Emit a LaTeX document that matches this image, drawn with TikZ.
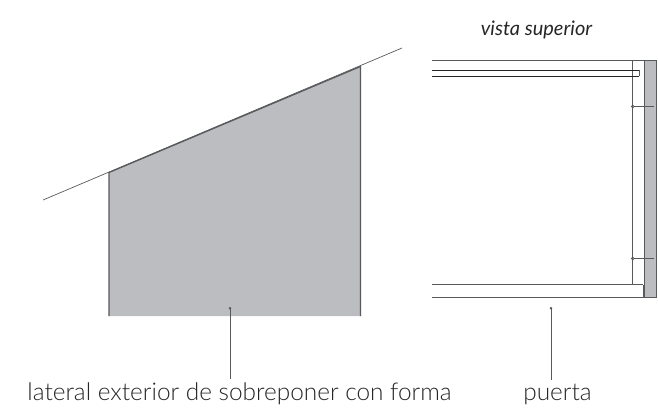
\documentclass[tikz,border=0pt]{standalone}
\usepackage{fontspec}
\setmainfont{Lato Light}
\newfontfamily\vistafont{Lato}
\usepackage{xcolor}
\usetikzlibrary{arrows.meta}
\definecolor{panelgray}{HTML}{BCBDC0}
\definecolor{linegray}{HTML}{58595B}
\tikzset{
  wire/.style={line width=0.7pt,draw=linegray},
  edge/.style={line width=1.5pt,draw=linegray},
  leader/.style={line width=0.7pt,draw=linegray,{Circle[length=2.5pt]}-},
  caption/.style={font=\fontsize{24.4}{26}\selectfont,text=black!85,inner sep=0pt,anchor=base},
}
\begin{document}
\begin{tikzpicture}[x=1pt,y=1pt]
\useasboundingbox (0,0) rectangle (658,410);
% lateral
\fill[panelgray] (109,237.5)--(360.5,343.5)--(360.5,94)--(109,94)--cycle;
\draw[wire] (43,210)--(402,362);
\draw[edge,line width=1.2pt] (109,94)--(109,237.5)--(360.5,343.5)--(360.5,94);
% vista superior
\node[font=\vistafont\itshape\fontsize{20}{22}\selectfont,text=black!85,inner sep=0pt,anchor=base] (vista) at (536.5,374) {vista superior};
\fill[panelgray] (644,112.5) rectangle (656,349.5);
\draw[wire] (644,112.5) rectangle (656,349.5);
\draw[wire] (432,349.5)--(644,349.5);
\draw[wire] (632.7,349.5)--(632.7,126);
% entrepano
\draw[edge,line width=1.2pt,draw=black!85] (432,339.5)--(639,339.5);
\draw[edge,line width=1.2pt,draw=black!85] (432,333.5)--(639,333.5);
\draw[wire] (639,339.5)--(639,333.5);
% puerta
\draw[edge] (432,125.5)--(643,125.5);
\draw[wire] (643,125.5)--(643,112.7)--(432,112.7);
% bisagras
\foreach \y in {303.5,151.5}{
  \draw[edge] (634,\y)--(654,\y);
  \draw[wire] (632.7,\y) circle (1.3);
}
% textos
\node[caption] (lateral) at (239.5,10) {lateral exterior de sobreponer con forma};
\node[caption] (puerta) at (557.5,10) {puerta};
\coordinate (lateraltip) at (230,103);
\coordinate (puertatip) at (551,103);
\draw[leader,shorten >=3pt] (lateraltip)--(lateraltip|-lateral.north);
\draw[leader,shorten >=3pt] (puertatip)--(puertatip|-puerta.north);
\end{tikzpicture}
\end{document}
